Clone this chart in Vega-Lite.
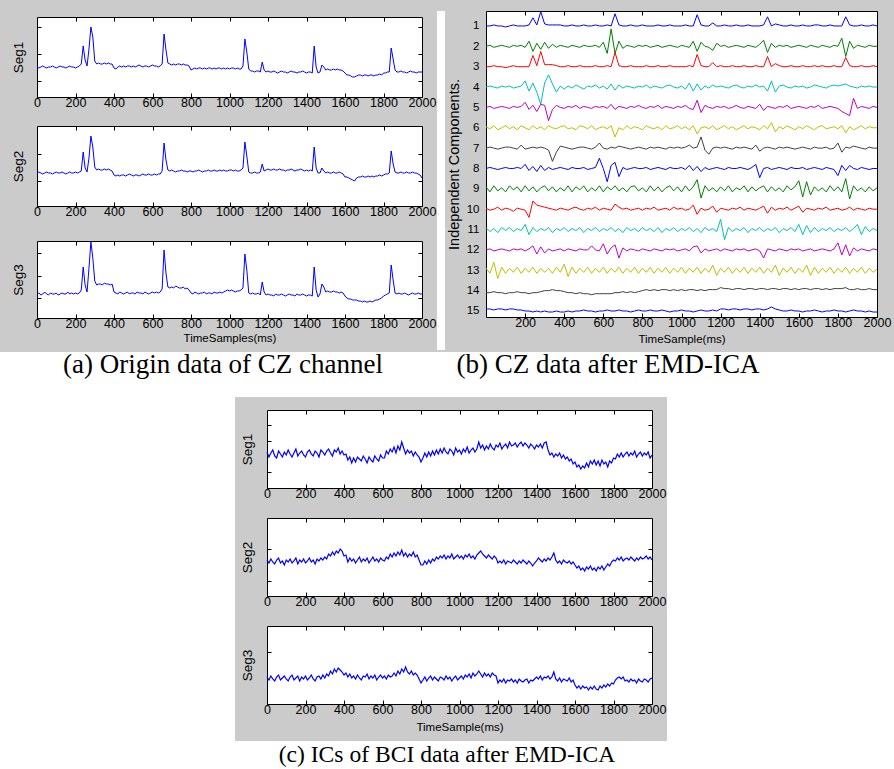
{
"$schema": "https://vega.github.io/schema/vega-lite/v6.json",
"background": "#cbcbcb",
"padding": {"left": 0, "top": 9, "right": 0, "bottom": 0},
"spacing": 0,
"config": {
 "view": {"stroke": "#000000", "strokeWidth": 1, "fill": "#ffffff"},
 "concat": {"spacing": 0},
 "axis": {"domain": false, "grid": false, "ticks": true, "tickColor": "#000000", "tickWidth": 1, "tickSize": -4, "labelFont": "Liberation Sans", "labelFontSize": 12.5, "labelColor": "#000000", "labelPadding": 3, "labelOverlap": false, "labelFlush": false, "titleFont": "Liberation Sans", "titleFontSize": 11.5, "titleFontWeight": "normal", "titleColor": "#000000", "minExtent": 0},
 "axisY": {"titleFontSize": 13.5, "titlePadding": 11}
},
"datasets": {
"ac": [
{"t":0,"a1":30,"a2":33,"a3":24,"c1":36,"c2":36,"c3":27},
{"t":10,"a1":29,"a2":34,"a3":25,"c1":31,"c2":33,"c3":24},
{"t":20,"a1":30,"a2":33,"a3":23,"c1":35,"c2":37,"c3":28},
{"t":30,"a1":31,"a2":32,"a3":24,"c1":38,"c2":34,"c3":25},
{"t":40,"a1":30,"a2":33,"a3":26,"c1":32,"c2":32,"c3":23},
{"t":50,"a1":29,"a2":34,"a3":24,"c1":30,"c2":36,"c3":27},
{"t":60,"a1":30,"a2":33,"a3":23,"c1":37,"c2":38,"c3":29},
{"t":70,"a1":30,"a2":33,"a3":25,"c1":34,"c2":33,"c3":24},
{"t":80,"a1":31,"a2":32,"a3":24,"c1":31,"c2":35,"c3":26},
{"t":90,"a1":30,"a2":33,"a3":24,"c1":36,"c2":31,"c3":28},
{"t":100,"a1":29,"a2":34,"a3":25,"c1":33,"c2":36,"c3":25},
{"t":110,"a1":30,"a2":33,"a3":23,"c1":38,"c2":34,"c3":23},
{"t":120,"a1":31,"a2":33,"a3":24,"c1":34,"c2":37,"c3":27},
{"t":130,"a1":30,"a2":34,"a3":25,"c1":31,"c2":33,"c3":29},
{"t":140,"a1":30,"a2":33,"a3":24,"c1":35,"c2":35,"c3":24},
{"t":150,"a1":29,"a2":32,"a3":24,"c1":39,"c2":38,"c3":26},
{"t":160,"a1":30,"a2":33,"a3":26,"c1":32,"c2":32,"c3":28},
{"t":170,"a1":31,"a2":34,"a3":24,"c1":35,"c2":36,"c3":23},
{"t":180,"a1":30,"a2":33,"a3":25,"c1":37,"c2":34,"c3":27},
{"t":190,"a1":30,"a2":33,"a3":24,"c1":33,"c2":37,"c3":25},
{"t":200,"a1":29,"a2":34,"a3":25,"c1":31,"c2":33,"c3":28},
{"t":210,"a1":30,"a2":33,"a3":24,"c1":36,"c2":35,"c3":24},
{"t":220,"a1":31,"a2":34,"a3":25,"c1":38,"c2":38,"c3":26},
{"t":230,"a1":33,"a2":35,"a3":28,"c1":34,"c2":34,"c3":29},
{"t":240,"a1":51,"a2":54,"a3":51,"c1":32,"c2":36,"c3":25},
{"t":250,"a1":37,"a2":38,"a3":33,"c1":37,"c2":32,"c3":23},
{"t":260,"a1":31,"a2":34,"a3":26,"c1":35,"c2":37,"c3":27},
{"t":270,"a1":48,"a2":48,"a3":50,"c1":31,"c2":35,"c3":28},
{"t":280,"a1":70,"a2":70,"a3":76,"c1":38,"c2":38,"c3":25},
{"t":290,"a1":60,"a2":59,"a3":60,"c1":36,"c2":36,"c3":29},
{"t":300,"a1":36,"a2":39,"a3":37,"c1":33,"c2":39,"c3":26},
{"t":310,"a1":33,"a2":36,"a3":33,"c1":37,"c2":37,"c3":30},
{"t":320,"a1":34,"a2":37,"a3":34,"c1":39,"c2":42,"c3":28},
{"t":330,"a1":33,"a2":36,"a3":34,"c1":35,"c2":40,"c3":33},
{"t":340,"a1":33,"a2":36,"a3":33,"c1":32,"c2":44,"c3":30},
{"t":350,"a1":34,"a2":37,"a3":35,"c1":38,"c2":41,"c3":35},
{"t":360,"a1":33,"a2":36,"a3":34,"c1":36,"c2":45,"c3":32},
{"t":370,"a1":34,"a2":37,"a3":34,"c1":40,"c2":43,"c3":36},
{"t":380,"a1":33,"a2":36,"a3":33,"c1":34,"c2":47,"c3":34},
{"t":390,"a1":33,"a2":35,"a3":34,"c1":37,"c2":45,"c3":32},
{"t":400,"a1":29,"a2":31,"a3":26,"c1":33,"c2":40,"c3":29},
{"t":410,"a1":28,"a2":30,"a3":25,"c1":34,"c2":41,"c3":31},
{"t":420,"a1":30,"a2":31,"a3":24,"c1":28,"c2":34,"c3":27},
{"t":430,"a1":31,"a2":30,"a3":26,"c1":31,"c2":38,"c3":30},
{"t":440,"a1":30,"a2":31,"a3":25,"c1":25,"c2":35,"c3":26},
{"t":450,"a1":31,"a2":31,"a3":24,"c1":30,"c2":37,"c3":28},
{"t":460,"a1":30,"a2":30,"a3":25,"c1":26,"c2":33,"c3":25},
{"t":470,"a1":31,"a2":31,"a3":26,"c1":31,"c2":36,"c3":29},
{"t":480,"a1":31,"a2":32,"a3":24,"c1":29,"c2":39,"c3":26},
{"t":490,"a1":30,"a2":31,"a3":25,"c1":27,"c2":34,"c3":24},
{"t":500,"a1":31,"a2":30,"a3":25,"c1":32,"c2":37,"c3":28},
{"t":510,"a1":30,"a2":31,"a3":24,"c1":29,"c2":35,"c3":27},
{"t":520,"a1":31,"a2":31,"a3":26,"c1":25,"c2":38,"c3":30},
{"t":530,"a1":32,"a2":30,"a3":25,"c1":31,"c2":33,"c3":25},
{"t":540,"a1":31,"a2":31,"a3":25,"c1":28,"c2":36,"c3":28},
{"t":550,"a1":30,"a2":32,"a3":24,"c1":26,"c2":39,"c3":26},
{"t":560,"a1":31,"a2":31,"a3":26,"c1":32,"c2":35,"c3":29},
{"t":570,"a1":31,"a2":31,"a3":25,"c1":29,"c2":37,"c3":24},
{"t":580,"a1":30,"a2":32,"a3":24,"c1":27,"c2":34,"c3":27},
{"t":590,"a1":31,"a2":31,"a3":25,"c1":33,"c2":38,"c3":29},
{"t":600,"a1":32,"a2":31,"a3":26,"c1":30,"c2":36,"c3":26},
{"t":610,"a1":31,"a2":32,"a3":25,"c1":30,"c2":35,"c3":28},
{"t":620,"a1":31,"a2":31,"a3":26,"c1":37,"c2":39,"c3":25},
{"t":630,"a1":30,"a2":32,"a3":25,"c1":34,"c2":37,"c3":29},
{"t":640,"a1":31,"a2":32,"a3":26,"c1":39,"c2":42,"c3":27},
{"t":650,"a1":33,"a2":35,"a3":29,"c1":36,"c2":39,"c3":28},
{"t":660,"a1":63,"a2":63,"a3":68,"c1":41,"c2":43,"c3":31},
{"t":670,"a1":47,"a2":46,"a3":45,"c1":35,"c2":40,"c3":28},
{"t":680,"a1":34,"a2":36,"a3":31,"c1":42,"c2":44,"c3":33},
{"t":690,"a1":33,"a2":35,"a3":30,"c1":38,"c2":41,"c3":30},
{"t":700,"a1":32,"a2":36,"a3":31,"c1":46,"c2":46,"c3":35},
{"t":710,"a1":33,"a2":35,"a3":30,"c1":40,"c2":40,"c3":32},
{"t":720,"a1":32,"a2":34,"a3":32,"c1":34,"c2":43,"c3":37},
{"t":730,"a1":33,"a2":35,"a3":31,"c1":38,"c2":39,"c3":32},
{"t":740,"a1":33,"a2":35,"a3":30,"c1":35,"c2":42,"c3":30},
{"t":750,"a1":32,"a2":36,"a3":30,"c1":37,"c2":40,"c3":33},
{"t":760,"a1":33,"a2":35,"a3":31,"c1":32,"c2":44,"c3":29},
{"t":770,"a1":32,"a2":35,"a3":29,"c1":36,"c2":39,"c3":31},
{"t":780,"a1":32,"a2":34,"a3":30,"c1":33,"c2":41,"c3":29},
{"t":790,"a1":31,"a2":35,"a3":28,"c1":31,"c2":36,"c3":25},
{"t":800,"a1":27,"a2":35,"a3":25,"c1":26,"c2":31,"c3":21},
{"t":810,"a1":28,"a2":34,"a3":24,"c1":30,"c2":31,"c3":24},
{"t":820,"a1":29,"a2":35,"a3":26,"c1":35,"c2":35,"c3":27},
{"t":830,"a1":28,"a2":35,"a3":25,"c1":31,"c2":32,"c3":23},
{"t":840,"a1":29,"a2":36,"a3":24,"c1":36,"c2":36,"c3":26},
{"t":850,"a1":29,"a2":35,"a3":25,"c1":32,"c2":33,"c3":28},
{"t":860,"a1":28,"a2":34,"a3":25,"c1":37,"c2":37,"c3":24},
{"t":870,"a1":29,"a2":35,"a3":26,"c1":33,"c2":35,"c3":27},
{"t":880,"a1":28,"a2":35,"a3":24,"c1":38,"c2":39,"c3":25},
{"t":890,"a1":29,"a2":36,"a3":25,"c1":34,"c2":37,"c3":23},
{"t":900,"a1":29,"a2":35,"a3":25,"c1":39,"c2":40,"c3":27},
{"t":910,"a1":28,"a2":35,"a3":24,"c1":35,"c2":38,"c3":26},
{"t":920,"a1":29,"a2":36,"a3":26,"c1":40,"c2":41,"c3":24},
{"t":930,"a1":28,"a2":35,"a3":25,"c1":36,"c2":37,"c3":28},
{"t":940,"a1":29,"a2":35,"a3":25,"c1":34,"c2":40,"c3":25},
{"t":950,"a1":29,"a2":36,"a3":26,"c1":39,"c2":38,"c3":27},
{"t":960,"a1":28,"a2":35,"a3":25,"c1":37,"c2":42,"c3":23},
{"t":970,"a1":29,"a2":36,"a3":26,"c1":33,"c2":37,"c3":26},
{"t":980,"a1":28,"a2":35,"a3":27,"c1":40,"c2":39,"c3":28},
{"t":990,"a1":29,"a2":35,"a3":28,"c1":36,"c2":41,"c3":24},
{"t":1000,"a1":28,"a2":36,"a3":27,"c1":38,"c2":38,"c3":26},
{"t":1010,"a1":29,"a2":36,"a3":28,"c1":34,"c2":40,"c3":28},
{"t":1020,"a1":29,"a2":35,"a3":27,"c1":39,"c2":37,"c3":25},
{"t":1030,"a1":28,"a2":36,"a3":26,"c1":36,"c2":41,"c3":29},
{"t":1040,"a1":29,"a2":35,"a3":27,"c1":41,"c2":39,"c3":27},
{"t":1050,"a1":28,"a2":35,"a3":27,"c1":35,"c2":42,"c3":30},
{"t":1060,"a1":28,"a2":36,"a3":28,"c1":38,"c2":38,"c3":26},
{"t":1070,"a1":31,"a2":38,"a3":30,"c1":40,"c2":40,"c3":31},
{"t":1080,"a1":58,"a2":64,"a3":64,"c1":36,"c2":37,"c3":28},
{"t":1090,"a1":45,"a2":50,"a3":48,"c1":39,"c2":41,"c3":30},
{"t":1100,"a1":28,"a2":34,"a3":25,"c1":46,"c2":43,"c3":33},
{"t":1110,"a1":26,"a2":33,"a3":24,"c1":40,"c2":45,"c3":30},
{"t":1120,"a1":26,"a2":33,"a3":25,"c1":43,"c2":42,"c3":27},
{"t":1130,"a1":25,"a2":34,"a3":24,"c1":38,"c2":40,"c3":31},
{"t":1140,"a1":26,"a2":33,"a3":24,"c1":42,"c2":38,"c3":28},
{"t":1150,"a1":26,"a2":33,"a3":25,"c1":39,"c2":41,"c3":30},
{"t":1160,"a1":25,"a2":34,"a3":23,"c1":44,"c2":39,"c3":27},
{"t":1170,"a1":35,"a2":42,"a3":36,"c1":40,"c2":37,"c3":31},
{"t":1180,"a1":27,"a2":35,"a3":26,"c1":38,"c2":40,"c3":29},
{"t":1190,"a1":25,"a2":36,"a3":23,"c1":43,"c2":38,"c3":28},
{"t":1200,"a1":26,"a2":37,"a3":24,"c1":41,"c2":33,"c3":21},
{"t":1210,"a1":25,"a2":36,"a3":23,"c1":45,"c2":35,"c3":24},
{"t":1220,"a1":25,"a2":36,"a3":23,"c1":39,"c2":33,"c3":22},
{"t":1230,"a1":26,"a2":37,"a3":22,"c1":42,"c2":36,"c3":25},
{"t":1240,"a1":25,"a2":36,"a3":24,"c1":44,"c2":32,"c3":21},
{"t":1250,"a1":24,"a2":36,"a3":23,"c1":40,"c2":35,"c3":24},
{"t":1260,"a1":25,"a2":37,"a3":23,"c1":46,"c2":34,"c3":23},
{"t":1270,"a1":26,"a2":36,"a3":24,"c1":42,"c2":33,"c3":25},
{"t":1280,"a1":25,"a2":36,"a3":23,"c1":43,"c2":36,"c3":22},
{"t":1290,"a1":25,"a2":35,"a3":22,"c1":45,"c2":34,"c3":24},
{"t":1300,"a1":24,"a2":36,"a3":23,"c1":41,"c2":32,"c3":21},
{"t":1310,"a1":25,"a2":36,"a3":24,"c1":44,"c2":35,"c3":25},
{"t":1320,"a1":26,"a2":37,"a3":23,"c1":46,"c2":33,"c3":23},
{"t":1330,"a1":25,"a2":36,"a3":23,"c1":42,"c2":36,"c3":22},
{"t":1340,"a1":25,"a2":35,"a3":22,"c1":45,"c2":34,"c3":24},
{"t":1350,"a1":24,"a2":36,"a3":24,"c1":43,"c2":32,"c3":25},
{"t":1360,"a1":25,"a2":36,"a3":23,"c1":40,"c2":35,"c3":21},
{"t":1370,"a1":25,"a2":37,"a3":23,"c1":44,"c2":33,"c3":24},
{"t":1380,"a1":26,"a2":36,"a3":24,"c1":42,"c2":30,"c3":23},
{"t":1390,"a1":25,"a2":35,"a3":23,"c1":39,"c2":33,"c3":25},
{"t":1400,"a1":24,"a2":36,"a3":22,"c1":43,"c2":35,"c3":27},
{"t":1410,"a1":25,"a2":35,"a3":23,"c1":41,"c2":38,"c3":25},
{"t":1420,"a1":25,"a2":36,"a3":23,"c1":44,"c2":36,"c3":28},
{"t":1430,"a1":24,"a2":35,"a3":22,"c1":40,"c2":34,"c3":24},
{"t":1440,"a1":51,"a2":59,"a3":51,"c1":45,"c2":37,"c3":27},
{"t":1450,"a1":30,"a2":38,"a3":28,"c1":46,"c2":35,"c3":26},
{"t":1460,"a1":24,"a2":33,"a3":21,"c1":38,"c2":38,"c3":28},
{"t":1470,"a1":25,"a2":33,"a3":24,"c1":33,"c2":36,"c3":25},
{"t":1480,"a1":32,"a2":38,"a3":34,"c1":35,"c2":39,"c3":27},
{"t":1490,"a1":30,"a2":35,"a3":31,"c1":31,"c2":43,"c3":32},
{"t":1500,"a1":27,"a2":33,"a3":26,"c1":34,"c2":36,"c3":25},
{"t":1510,"a1":28,"a2":34,"a3":27,"c1":32,"c2":33,"c3":23},
{"t":1520,"a1":27,"a2":33,"a3":26,"c1":35,"c2":35,"c3":26},
{"t":1530,"a1":27,"a2":33,"a3":26,"c1":30,"c2":32,"c3":22},
{"t":1540,"a1":28,"a2":34,"a3":27,"c1":33,"c2":36,"c3":25},
{"t":1550,"a1":27,"a2":33,"a3":26,"c1":29,"c2":34,"c3":24},
{"t":1560,"a1":28,"a2":33,"a3":26,"c1":31,"c2":33,"c3":23},
{"t":1570,"a1":27,"a2":34,"a3":25,"c1":27,"c2":35,"c3":26},
{"t":1580,"a1":27,"a2":33,"a3":26,"c1":29,"c2":32,"c3":22},
{"t":1590,"a1":26,"a2":32,"a3":25,"c1":24,"c2":34,"c3":24},
{"t":1600,"a1":24,"a2":29,"a3":22,"c1":26,"c2":31,"c3":19},
{"t":1610,"a1":22,"a2":29,"a3":20,"c1":21,"c2":28,"c3":16},
{"t":1620,"a1":22,"a2":28,"a3":19,"c1":23,"c2":30,"c3":18},
{"t":1630,"a1":21,"a2":27,"a3":19,"c1":19,"c2":26,"c3":15},
{"t":1640,"a1":20,"a2":26,"a3":18,"c1":22,"c2":28,"c3":18},
{"t":1650,"a1":20,"a2":25,"a3":18,"c1":20,"c2":25,"c3":16},
{"t":1660,"a1":21,"a2":28,"a3":18,"c1":25,"c2":29,"c3":17},
{"t":1670,"a1":22,"a2":29,"a3":17,"c1":21,"c2":27,"c3":14},
{"t":1680,"a1":22,"a2":29,"a3":17,"c1":27,"c2":30,"c3":17},
{"t":1690,"a1":21,"a2":30,"a3":16,"c1":24,"c2":26,"c3":15},
{"t":1700,"a1":22,"a2":29,"a3":17,"c1":28,"c2":28,"c3":18},
{"t":1710,"a1":22,"a2":29,"a3":16,"c1":23,"c2":25,"c3":15},
{"t":1720,"a1":21,"a2":30,"a3":16,"c1":27,"c2":29,"c3":14},
{"t":1730,"a1":22,"a2":29,"a3":17,"c1":22,"c2":27,"c3":18},
{"t":1740,"a1":22,"a2":30,"a3":16,"c1":28,"c2":30,"c3":16},
{"t":1750,"a1":21,"a2":29,"a3":17,"c1":24,"c2":26,"c3":19},
{"t":1760,"a1":22,"a2":30,"a3":18,"c1":26,"c2":29,"c3":17},
{"t":1770,"a1":22,"a2":30,"a3":18,"c1":21,"c2":32,"c3":20},
{"t":1780,"a1":23,"a2":31,"a3":19,"c1":27,"c2":30,"c3":18},
{"t":1790,"a1":22,"a2":30,"a3":20,"c1":25,"c2":34,"c3":21},
{"t":1800,"a1":24,"a2":31,"a3":22,"c1":30,"c2":36,"c3":20},
{"t":1810,"a1":24,"a2":32,"a3":23,"c1":29,"c2":35,"c3":24},
{"t":1820,"a1":25,"a2":32,"a3":24,"c1":34,"c2":38,"c3":26},
{"t":1830,"a1":25,"a2":33,"a3":25,"c1":31,"c2":36,"c3":27},
{"t":1840,"a1":49,"a2":55,"a3":53,"c1":35,"c2":39,"c3":25},
{"t":1850,"a1":38,"a2":42,"a3":38,"c1":31,"c2":35,"c3":27},
{"t":1860,"a1":27,"a2":34,"a3":25,"c1":34,"c2":37,"c3":23},
{"t":1870,"a1":25,"a2":33,"a3":24,"c1":36,"c2":38,"c3":24},
{"t":1880,"a1":25,"a2":33,"a3":25,"c1":32,"c2":36,"c3":22},
{"t":1890,"a1":26,"a2":34,"a3":24,"c1":35,"c2":39,"c3":25},
{"t":1900,"a1":25,"a2":33,"a3":24,"c1":33,"c2":37,"c3":23},
{"t":1910,"a1":25,"a2":33,"a3":25,"c1":37,"c2":35,"c3":24},
{"t":1920,"a1":24,"a2":34,"a3":24,"c1":31,"c2":38,"c3":21},
{"t":1930,"a1":25,"a2":33,"a3":23,"c1":34,"c2":36,"c3":25},
{"t":1940,"a1":26,"a2":33,"a3":24,"c1":36,"c2":39,"c3":23},
{"t":1950,"a1":25,"a2":34,"a3":25,"c1":32,"c2":37,"c3":22},
{"t":1960,"a1":25,"a2":33,"a3":24,"c1":35,"c2":38,"c3":25},
{"t":1970,"a1":24,"a2":33,"a3":24,"c1":33,"c2":40,"c3":24},
{"t":1980,"a1":25,"a2":32,"a3":25,"c1":36,"c2":37,"c3":22},
{"t":1990,"a1":25,"a2":31,"a3":24,"c1":30,"c2":39,"c3":25},
{"t":2000,"a1":25,"a2":28,"a3":24,"c1":33,"c2":36,"c3":26}
],
"b": [
{"t":0,"b1":300,"b2":280,"b3":260,"b4":240,"b5":220,"b6":201,"b7":180,"b8":160,"b9":142,"b10":121,"b11":102,"b12":80,"b13":62,"b14":38,"b15":22},
{"t":20,"b1":300,"b2":281,"b3":260,"b4":241,"b5":221,"b6":199,"b7":181,"b8":161,"b9":137,"b10":119,"b11":98,"b12":81,"b13":57,"b14":38,"b15":22},
{"t":40,"b1":301,"b2":279,"b3":261,"b4":240,"b5":219,"b6":202,"b7":180,"b8":160,"b9":143,"b10":120,"b11":101,"b12":79,"b13":68,"b14":39,"b15":21},
{"t":60,"b1":300,"b2":280,"b3":260,"b4":239,"b5":220,"b6":198,"b7":179,"b8":159,"b9":138,"b10":122,"b11":97,"b12":80,"b13":52,"b14":38,"b15":22},
{"t":80,"b1":300,"b2":281,"b3":260,"b4":241,"b5":221,"b6":200,"b7":180,"b8":160,"b9":141,"b10":119,"b11":102,"b12":81,"b13":63,"b14":38,"b15":22},
{"t":100,"b1":299,"b2":280,"b3":259,"b4":240,"b5":220,"b6":202,"b7":181,"b8":161,"b9":137,"b10":121,"b11":99,"b12":80,"b13":57,"b14":37,"b15":21},
{"t":120,"b1":300,"b2":279,"b3":260,"b4":241,"b5":219,"b6":199,"b7":181,"b8":160,"b9":143,"b10":120,"b11":102,"b12":79,"b13":62,"b14":38,"b15":22},
{"t":140,"b1":301,"b2":281,"b3":261,"b4":239,"b5":221,"b6":201,"b7":180,"b8":160,"b9":139,"b10":118,"b11":98,"b12":81,"b13":58,"b14":38,"b15":22},
{"t":160,"b1":300,"b2":280,"b3":260,"b4":240,"b5":220,"b6":198,"b7":179,"b8":161,"b9":142,"b10":121,"b11":101,"b12":80,"b13":63,"b14":39,"b15":21},
{"t":180,"b1":300,"b2":281,"b3":260,"b4":241,"b5":221,"b6":202,"b7":183,"b8":160,"b9":137,"b10":120,"b11":99,"b12":81,"b13":57,"b14":38,"b15":21},
{"t":200,"b1":300,"b2":279,"b3":260,"b4":246,"b5":225,"b6":200,"b7":179,"b8":164,"b9":143,"b10":119,"b11":105,"b12":79,"b13":62,"b14":38,"b15":20},
{"t":220,"b1":301,"b2":285,"b3":260,"b4":236,"b5":218,"b6":198,"b7":180,"b8":158,"b9":138,"b10":112,"b11":95,"b12":81,"b13":58,"b14":37,"b15":20},
{"t":240,"b1":308,"b2":275,"b3":271,"b4":244,"b5":222,"b6":202,"b7":181,"b8":162,"b9":142,"b10":128,"b11":102,"b12":84,"b13":63,"b14":38,"b15":19},
{"t":260,"b1":301,"b2":283,"b3":261,"b4":235,"b5":216,"b6":199,"b7":180,"b8":157,"b9":137,"b10":124,"b11":98,"b12":76,"b13":57,"b14":38,"b15":20},
{"t":280,"b1":314,"b2":277,"b3":275,"b4":223,"b5":223,"b6":201,"b7":181,"b8":163,"b9":141,"b10":123,"b11":101,"b12":83,"b13":62,"b14":39,"b15":19},
{"t":300,"b1":302,"b2":284,"b3":262,"b4":244,"b5":222,"b6":198,"b7":180,"b8":158,"b9":143,"b10":122,"b11":99,"b12":77,"b13":58,"b14":40,"b15":20},
{"t":320,"b1":301,"b2":278,"b3":262,"b4":252,"b5":207,"b6":202,"b7":178,"b8":161,"b9":138,"b10":121,"b11":102,"b12":81,"b13":62,"b14":40,"b15":19},
{"t":340,"b1":301,"b2":282,"b3":262,"b4":243,"b5":218,"b6":200,"b7":167,"b8":159,"b9":142,"b10":120,"b11":97,"b12":79,"b13":57,"b14":41,"b15":19},
{"t":360,"b1":301,"b2":279,"b3":261,"b4":235,"b5":222,"b6":199,"b7":176,"b8":160,"b9":137,"b10":119,"b11":101,"b12":80,"b13":63,"b14":40,"b15":20},
{"t":380,"b1":301,"b2":281,"b3":260,"b4":241,"b5":220,"b6":201,"b7":182,"b8":161,"b9":141,"b10":121,"b11":99,"b12":81,"b13":58,"b14":40,"b15":19},
{"t":400,"b1":300,"b2":280,"b3":260,"b4":238,"b5":219,"b6":202,"b7":181,"b8":160,"b9":138,"b10":120,"b11":102,"b12":79,"b13":66,"b14":39,"b15":19},
{"t":420,"b1":300,"b2":279,"b3":261,"b4":241,"b5":221,"b6":199,"b7":180,"b8":159,"b9":143,"b10":119,"b11":98,"b12":81,"b13":54,"b14":38,"b15":20},
{"t":440,"b1":301,"b2":281,"b3":260,"b4":239,"b5":220,"b6":200,"b7":179,"b8":161,"b9":137,"b10":121,"b11":101,"b12":80,"b13":63,"b14":38,"b15":19},
{"t":460,"b1":300,"b2":280,"b3":260,"b4":242,"b5":222,"b6":198,"b7":180,"b8":160,"b9":142,"b10":122,"b11":99,"b12":79,"b13":57,"b14":37,"b15":20},
{"t":480,"b1":300,"b2":279,"b3":261,"b4":240,"b5":219,"b6":202,"b7":181,"b8":160,"b9":139,"b10":120,"b11":102,"b12":81,"b13":62,"b14":38,"b15":20},
{"t":500,"b1":301,"b2":281,"b3":260,"b4":238,"b5":221,"b6":201,"b7":181,"b8":161,"b9":143,"b10":119,"b11":97,"b12":80,"b13":58,"b14":37,"b15":21},
{"t":520,"b1":300,"b2":280,"b3":260,"b4":241,"b5":220,"b6":199,"b7":180,"b8":159,"b9":137,"b10":121,"b11":101,"b12":80,"b13":63,"b14":37,"b15":20},
{"t":540,"b1":300,"b2":280,"b3":260,"b4":240,"b5":219,"b6":202,"b7":179,"b8":160,"b9":141,"b10":120,"b11":99,"b12":84,"b13":57,"b14":36,"b15":20},
{"t":560,"b1":301,"b2":281,"b3":261,"b4":242,"b5":221,"b6":198,"b7":181,"b8":161,"b9":138,"b10":122,"b11":102,"b12":80,"b13":62,"b14":37,"b15":19},
{"t":580,"b1":300,"b2":279,"b3":260,"b4":239,"b5":220,"b6":200,"b7":185,"b8":170,"b9":143,"b10":119,"b11":98,"b12":79,"b13":58,"b14":37,"b15":20},
{"t":600,"b1":300,"b2":284,"b3":260,"b4":241,"b5":221,"b6":201,"b7":180,"b8":160,"b9":137,"b10":121,"b11":101,"b12":86,"b13":63,"b14":37,"b15":20},
{"t":620,"b1":301,"b2":273,"b3":261,"b4":238,"b5":219,"b6":199,"b7":179,"b8":147,"b9":142,"b10":120,"b11":99,"b12":76,"b13":57,"b14":37,"b15":21},
{"t":640,"b1":300,"b2":297,"b3":260,"b4":243,"b5":223,"b6":202,"b7":181,"b8":163,"b9":139,"b10":119,"b11":102,"b12":82,"b13":62,"b14":37,"b15":20},
{"t":660,"b1":312,"b2":273,"b3":274,"b4":237,"b5":218,"b6":191,"b7":180,"b8":166,"b9":143,"b10":125,"b11":98,"b12":85,"b13":58,"b14":38,"b15":20},
{"t":680,"b1":301,"b2":285,"b3":261,"b4":242,"b5":221,"b6":200,"b7":182,"b8":152,"b9":138,"b10":122,"b11":101,"b12":72,"b13":63,"b14":38,"b15":21},
{"t":700,"b1":300,"b2":278,"b3":260,"b4":239,"b5":220,"b6":198,"b7":181,"b8":161,"b9":141,"b10":120,"b11":97,"b12":82,"b13":57,"b14":39,"b15":20},
{"t":720,"b1":300,"b2":281,"b3":260,"b4":241,"b5":219,"b6":202,"b7":180,"b8":159,"b9":137,"b10":121,"b11":102,"b12":79,"b13":62,"b14":38,"b15":20},
{"t":740,"b1":301,"b2":280,"b3":261,"b4":240,"b5":221,"b6":199,"b7":179,"b8":160,"b9":142,"b10":119,"b11":99,"b12":81,"b13":58,"b14":39,"b15":19},
{"t":760,"b1":300,"b2":279,"b3":260,"b4":239,"b5":220,"b6":201,"b7":180,"b8":161,"b9":143,"b10":120,"b11":101,"b12":80,"b13":63,"b14":38,"b15":20},
{"t":780,"b1":300,"b2":281,"b3":260,"b4":241,"b5":222,"b6":200,"b7":181,"b8":160,"b9":138,"b10":121,"b11":98,"b12":79,"b13":57,"b14":39,"b15":21},
{"t":800,"b1":301,"b2":280,"b3":260,"b4":240,"b5":220,"b6":198,"b7":180,"b8":160,"b9":141,"b10":119,"b11":102,"b12":81,"b13":62,"b14":40,"b15":20},
{"t":820,"b1":300,"b2":281,"b3":261,"b4":242,"b5":219,"b6":202,"b7":179,"b8":161,"b9":137,"b10":121,"b11":99,"b12":80,"b13":58,"b14":41,"b15":20},
{"t":840,"b1":300,"b2":279,"b3":260,"b4":239,"b5":221,"b6":200,"b7":181,"b8":159,"b9":143,"b10":120,"b11":101,"b12":79,"b13":63,"b14":40,"b15":21},
{"t":860,"b1":300,"b2":280,"b3":260,"b4":241,"b5":220,"b6":199,"b7":180,"b8":160,"b9":138,"b10":122,"b11":98,"b12":81,"b13":57,"b14":41,"b15":20},
{"t":880,"b1":301,"b2":281,"b3":261,"b4":240,"b5":222,"b6":201,"b7":181,"b8":161,"b9":142,"b10":119,"b11":102,"b12":80,"b13":62,"b14":40,"b15":20},
{"t":900,"b1":300,"b2":279,"b3":260,"b4":239,"b5":219,"b6":198,"b7":180,"b8":160,"b9":137,"b10":120,"b11":97,"b12":79,"b13":58,"b14":41,"b15":21},
{"t":920,"b1":300,"b2":280,"b3":260,"b4":241,"b5":221,"b6":202,"b7":179,"b8":159,"b9":141,"b10":121,"b11":101,"b12":81,"b13":63,"b14":41,"b15":20},
{"t":940,"b1":301,"b2":281,"b3":261,"b4":242,"b5":220,"b6":199,"b7":181,"b8":161,"b9":143,"b10":119,"b11":99,"b12":80,"b13":57,"b14":40,"b15":19},
{"t":960,"b1":300,"b2":280,"b3":260,"b4":240,"b5":219,"b6":200,"b7":180,"b8":160,"b9":138,"b10":122,"b11":102,"b12":81,"b13":62,"b14":41,"b15":20},
{"t":980,"b1":300,"b2":279,"b3":260,"b4":239,"b5":221,"b6":202,"b7":181,"b8":160,"b9":142,"b10":120,"b11":98,"b12":79,"b13":58,"b14":40,"b15":20},
{"t":1000,"b1":300,"b2":281,"b3":260,"b4":241,"b5":220,"b6":199,"b7":180,"b8":161,"b9":137,"b10":121,"b11":101,"b12":80,"b13":63,"b14":41,"b15":21},
{"t":1020,"b1":301,"b2":280,"b3":260,"b4":238,"b5":222,"b6":201,"b7":181,"b8":159,"b9":143,"b10":119,"b11":99,"b12":81,"b13":57,"b14":40,"b15":20},
{"t":1040,"b1":300,"b2":279,"b3":261,"b4":244,"b5":219,"b6":198,"b7":183,"b8":163,"b9":138,"b10":120,"b11":102,"b12":79,"b13":62,"b14":41,"b15":20},
{"t":1060,"b1":300,"b2":285,"b3":260,"b4":236,"b5":218,"b6":202,"b7":180,"b8":158,"b9":142,"b10":124,"b11":98,"b12":83,"b13":58,"b14":41,"b15":19},
{"t":1080,"b1":311,"b2":275,"b3":272,"b4":243,"b5":227,"b6":194,"b7":181,"b8":162,"b9":149,"b10":115,"b11":101,"b12":84,"b13":63,"b14":40,"b15":20},
{"t":1100,"b1":301,"b2":284,"b3":261,"b4":237,"b5":215,"b6":200,"b7":191,"b8":157,"b9":131,"b10":121,"b11":97,"b12":77,"b13":57,"b14":41,"b15":21},
{"t":1120,"b1":300,"b2":280,"b3":260,"b4":241,"b5":222,"b6":201,"b7":178,"b8":161,"b9":143,"b10":119,"b11":102,"b12":81,"b13":62,"b14":40,"b15":20},
{"t":1140,"b1":300,"b2":279,"b3":260,"b4":239,"b5":220,"b6":199,"b7":174,"b8":159,"b9":138,"b10":120,"b11":99,"b12":79,"b13":58,"b14":41,"b15":20},
{"t":1160,"b1":303,"b2":276,"b3":264,"b4":242,"b5":219,"b6":202,"b7":180,"b8":160,"b9":141,"b10":123,"b11":101,"b12":80,"b13":65,"b14":41,"b15":21},
{"t":1180,"b1":300,"b2":283,"b3":260,"b4":240,"b5":221,"b6":198,"b7":181,"b8":161,"b9":137,"b10":117,"b11":98,"b12":81,"b13":55,"b14":41,"b15":20},
{"t":1200,"b1":300,"b2":280,"b3":261,"b4":241,"b5":220,"b6":200,"b7":180,"b8":160,"b9":142,"b10":121,"b11":110,"b12":79,"b13":62,"b14":43,"b15":22},
{"t":1220,"b1":301,"b2":281,"b3":260,"b4":240,"b5":221,"b6":202,"b7":181,"b8":159,"b9":138,"b10":120,"b11":90,"b12":81,"b13":58,"b14":42,"b15":22},
{"t":1240,"b1":300,"b2":279,"b3":260,"b4":239,"b5":219,"b6":199,"b7":180,"b8":161,"b9":143,"b10":119,"b11":102,"b12":80,"b13":63,"b14":42,"b15":21},
{"t":1260,"b1":300,"b2":280,"b3":261,"b4":241,"b5":220,"b6":201,"b7":179,"b8":160,"b9":137,"b10":121,"b11":98,"b12":79,"b13":57,"b14":41,"b15":22},
{"t":1280,"b1":301,"b2":281,"b3":260,"b4":242,"b5":222,"b6":198,"b7":181,"b8":160,"b9":141,"b10":120,"b11":101,"b12":81,"b13":62,"b14":42,"b15":22},
{"t":1300,"b1":300,"b2":280,"b3":260,"b4":240,"b5":220,"b6":200,"b7":180,"b8":161,"b9":139,"b10":122,"b11":99,"b12":80,"b13":58,"b14":42,"b15":21},
{"t":1320,"b1":300,"b2":279,"b3":261,"b4":239,"b5":219,"b6":202,"b7":181,"b8":160,"b9":143,"b10":119,"b11":102,"b12":81,"b13":63,"b14":41,"b15":22},
{"t":1340,"b1":301,"b2":281,"b3":260,"b4":241,"b5":221,"b6":199,"b7":180,"b8":159,"b9":137,"b10":121,"b11":97,"b12":79,"b13":57,"b14":42,"b15":22},
{"t":1360,"b1":300,"b2":280,"b3":260,"b4":240,"b5":220,"b6":201,"b7":179,"b8":161,"b9":142,"b10":120,"b11":101,"b12":80,"b13":62,"b14":42,"b15":21},
{"t":1380,"b1":300,"b2":279,"b3":261,"b4":242,"b5":219,"b6":200,"b7":183,"b8":164,"b9":138,"b10":119,"b11":99,"b12":81,"b13":58,"b14":41,"b15":22},
{"t":1400,"b1":300,"b2":282,"b3":260,"b4":240,"b5":223,"b6":198,"b7":177,"b8":151,"b9":141,"b10":121,"b11":102,"b12":79,"b13":63,"b14":42,"b15":22},
{"t":1420,"b1":301,"b2":286,"b3":260,"b4":241,"b5":217,"b6":202,"b7":180,"b8":160,"b9":143,"b10":123,"b11":98,"b12":72,"b13":57,"b14":42,"b15":21},
{"t":1440,"b1":309,"b2":274,"b3":270,"b4":236,"b5":221,"b6":199,"b7":181,"b8":161,"b9":137,"b10":116,"b11":101,"b12":81,"b13":62,"b14":41,"b15":22},
{"t":1460,"b1":300,"b2":283,"b3":260,"b4":246,"b5":220,"b6":205,"b7":180,"b8":159,"b9":142,"b10":122,"b11":99,"b12":80,"b13":58,"b14":42,"b15":24},
{"t":1480,"b1":302,"b2":279,"b3":263,"b4":235,"b5":219,"b6":196,"b7":179,"b8":160,"b9":138,"b10":119,"b11":102,"b12":79,"b13":65,"b14":42,"b15":22},
{"t":1500,"b1":301,"b2":281,"b3":261,"b4":241,"b5":221,"b6":201,"b7":181,"b8":161,"b9":141,"b10":121,"b11":97,"b12":81,"b13":55,"b14":41,"b15":21},
{"t":1520,"b1":300,"b2":280,"b3":260,"b4":242,"b5":220,"b6":199,"b7":180,"b8":160,"b9":137,"b10":120,"b11":101,"b12":80,"b13":62,"b14":42,"b15":20},
{"t":1540,"b1":300,"b2":281,"b3":260,"b4":240,"b5":222,"b6":202,"b7":181,"b8":159,"b9":143,"b10":122,"b11":99,"b12":79,"b13":58,"b14":42,"b15":20},
{"t":1560,"b1":301,"b2":279,"b3":261,"b4":239,"b5":219,"b6":200,"b7":180,"b8":161,"b9":139,"b10":119,"b11":102,"b12":81,"b13":63,"b14":41,"b15":21},
{"t":1580,"b1":300,"b2":280,"b3":260,"b4":241,"b5":220,"b6":198,"b7":179,"b8":160,"b9":142,"b10":121,"b11":98,"b12":80,"b13":57,"b14":42,"b15":20},
{"t":1600,"b1":300,"b2":281,"b3":260,"b4":240,"b5":221,"b6":201,"b7":180,"b8":160,"b9":148,"b10":123,"b11":105,"b12":81,"b13":62,"b14":41,"b15":20},
{"t":1620,"b1":301,"b2":280,"b3":261,"b4":241,"b5":220,"b6":199,"b7":181,"b8":161,"b9":132,"b10":117,"b11":95,"b12":79,"b13":58,"b14":42,"b15":19},
{"t":1640,"b1":300,"b2":279,"b3":260,"b4":239,"b5":219,"b6":202,"b7":180,"b8":159,"b9":147,"b10":121,"b11":104,"b12":80,"b13":65,"b14":42,"b15":20},
{"t":1660,"b1":300,"b2":281,"b3":260,"b4":240,"b5":221,"b6":200,"b7":179,"b8":160,"b9":134,"b10":120,"b11":97,"b12":81,"b13":55,"b14":41,"b15":20},
{"t":1680,"b1":301,"b2":280,"b3":261,"b4":242,"b5":220,"b6":198,"b7":181,"b8":161,"b9":142,"b10":119,"b11":102,"b12":79,"b13":63,"b14":42,"b15":21},
{"t":1700,"b1":301,"b2":279,"b3":260,"b4":241,"b5":222,"b6":201,"b7":180,"b8":160,"b9":138,"b10":121,"b11":98,"b12":80,"b13":57,"b14":42,"b15":20},
{"t":1720,"b1":300,"b2":281,"b3":261,"b4":240,"b5":219,"b6":202,"b7":180,"b8":159,"b9":141,"b10":120,"b11":101,"b12":81,"b13":62,"b14":41,"b15":19},
{"t":1740,"b1":300,"b2":280,"b3":260,"b4":239,"b5":220,"b6":199,"b7":181,"b8":161,"b9":137,"b10":122,"b11":99,"b12":80,"b13":58,"b14":42,"b15":20},
{"t":1760,"b1":301,"b2":279,"b3":260,"b4":241,"b5":221,"b6":200,"b7":179,"b8":160,"b9":143,"b10":119,"b11":102,"b12":79,"b13":63,"b14":41,"b15":20},
{"t":1780,"b1":300,"b2":281,"b3":261,"b4":242,"b5":220,"b6":201,"b7":180,"b8":159,"b9":138,"b10":120,"b11":98,"b12":81,"b13":57,"b14":42,"b15":21},
{"t":1800,"b1":300,"b2":280,"b3":260,"b4":241,"b5":219,"b6":199,"b7":185,"b8":153,"b9":142,"b10":121,"b11":101,"b12":87,"b13":62,"b14":42,"b15":20},
{"t":1820,"b1":300,"b2":288,"b3":260,"b4":242,"b5":216,"b6":202,"b7":176,"b8":163,"b9":137,"b10":119,"b11":99,"b12":75,"b13":58,"b14":42,"b15":20},
{"t":1840,"b1":309,"b2":270,"b3":269,"b4":243,"b5":214,"b6":195,"b7":181,"b8":158,"b9":150,"b10":120,"b11":102,"b12":85,"b13":63,"b14":43,"b15":19},
{"t":1860,"b1":301,"b2":285,"b3":261,"b4":241,"b5":212,"b6":201,"b7":180,"b8":163,"b9":130,"b10":122,"b11":98,"b12":74,"b13":57,"b14":41,"b15":20},
{"t":1880,"b1":300,"b2":278,"b3":260,"b4":240,"b5":229,"b6":198,"b7":182,"b8":160,"b9":143,"b10":119,"b11":101,"b12":82,"b13":62,"b14":41,"b15":21},
{"t":1900,"b1":300,"b2":281,"b3":260,"b4":239,"b5":219,"b6":200,"b7":181,"b8":159,"b9":138,"b10":121,"b11":105,"b12":79,"b13":58,"b14":42,"b15":20},
{"t":1920,"b1":301,"b2":280,"b3":261,"b4":241,"b5":221,"b6":202,"b7":180,"b8":161,"b9":141,"b10":120,"b11":95,"b12":81,"b13":63,"b14":41,"b15":20},
{"t":1940,"b1":300,"b2":279,"b3":260,"b4":240,"b5":220,"b6":199,"b7":179,"b8":160,"b9":137,"b10":119,"b11":103,"b12":80,"b13":57,"b14":41,"b15":19},
{"t":1960,"b1":300,"b2":281,"b3":260,"b4":241,"b5":219,"b6":201,"b7":181,"b8":159,"b9":142,"b10":121,"b11":98,"b12":79,"b13":62,"b14":42,"b15":20},
{"t":1980,"b1":301,"b2":280,"b3":261,"b4":240,"b5":221,"b6":200,"b7":180,"b8":160,"b9":138,"b10":120,"b11":101,"b12":81,"b13":58,"b14":41,"b15":19},
{"t":2000,"b1":300,"b2":280,"b3":260,"b4":240,"b5":220,"b6":200,"b7":180,"b8":160,"b9":141,"b10":120,"b11":99,"b12":80,"b13":61,"b14":41,"b15":19}
]
},
"vconcat": [
 {"spacing": 0, "hconcat": [
  {"width": 11, "height": 1, "data": {"values": []}, "mark": "point", "view": {"fill": "#cbcbcb", "stroke": null}},
  {"spacing": 0, "vconcat": [
   {"width": 1, "height": 5, "data": {"values": []}, "mark": "point", "view": {"fill": "#cbcbcb", "stroke": null}},
   {"spacing": 16, "vconcat": [
    {"width": 385, "height": 80, "data": {"name": "ac"},
     "layer": [
      {"mark": {"type": "line", "color": "#0000ff", "strokeWidth": 1},
       "encoding": {
        "x": {"field": "t", "type": "quantitative", "scale": {"domain": [0, 2000], "nice": false}, "axis": {"values": [0,200,400,600,800,1000,1200,1400,1600,1800,2000], "format": "d", "title": null}},
        "y": {"field": "a1", "type": "quantitative", "scale": {"domain": [0, 80], "nice": false, "zero": false}, "axis": {"values": [16, 43, 70], "labels": false, "title": "Seg1", "titleFontSize": 13.5, "titlePadding": 11}}}},
      {"data": {"values": []}, "mark": "rule",
       "encoding": {
        "x": {"field": "t", "type": "quantitative", "scale": {"domain": [0, 2000], "nice": false}, "axis": {"orient": "top", "values": [200,400,600,800,1000,1200,1400,1600,1800], "labels": false, "title": null}},
        "y": {"field": "a1", "type": "quantitative", "scale": {"domain": [0, 80], "nice": false, "zero": false}, "axis": {"orient": "right", "values": [16, 43, 70], "labels": false, "title": null}}}}
     ],
     "resolve": {"axis": {"x": "independent", "y": "independent"}}},
    {"width": 385, "height": 80, "data": {"name": "ac"},
     "layer": [
      {"mark": {"type": "line", "color": "#0000ff", "strokeWidth": 1},
       "encoding": {
        "x": {"field": "t", "type": "quantitative", "scale": {"domain": [0, 2000], "nice": false}, "axis": {"values": [0,200,400,600,800,1000,1200,1400,1600,1800,2000], "format": "d", "title": null}},
        "y": {"field": "a2", "type": "quantitative", "scale": {"domain": [0, 80], "nice": false, "zero": false}, "axis": {"values": [25, 52], "labels": false, "title": "Seg2", "titleFontSize": 13.5, "titlePadding": 11}}}},
      {"data": {"values": []}, "mark": "rule",
       "encoding": {
        "x": {"field": "t", "type": "quantitative", "scale": {"domain": [0, 2000], "nice": false}, "axis": {"orient": "top", "values": [200,400,600,800,1000,1200,1400,1600,1800], "labels": false, "title": null}},
        "y": {"field": "a2", "type": "quantitative", "scale": {"domain": [0, 80], "nice": false, "zero": false}, "axis": {"orient": "right", "values": [25, 52], "labels": false, "title": null}}}}
     ],
     "resolve": {"axis": {"x": "independent", "y": "independent"}}}
   ]},
   {"width": 1, "height": 21, "data": {"values": []}, "mark": "point", "view": {"fill": "#cbcbcb", "stroke": null}},
   {"width": 385, "height": 77, "data": {"name": "ac"},
    "layer": [
     {"mark": {"type": "line", "color": "#0000ff", "strokeWidth": 1},
      "encoding": {
       "x": {"field": "t", "type": "quantitative", "scale": {"domain": [0, 2000], "nice": false}, "axis": {"values": [0,200,400,600,800,1000,1200,1400,1600,1800,2000], "format": "d", "title": "TimeSamples(ms)", "titlePadding": 3}},
       "y": {"field": "a3", "type": "quantitative", "scale": {"domain": [0, 77], "nice": false, "zero": false}, "axis": {"values": [20, 42, 65], "labels": false, "title": "Seg3", "titleFontSize": 13.5, "titlePadding": 11}}}},
     {"data": {"values": []}, "mark": "rule",
      "encoding": {
       "x": {"field": "t", "type": "quantitative", "scale": {"domain": [0, 2000], "nice": false}, "axis": {"orient": "top", "values": [200,400,600,800,1000,1200,1400,1600,1800], "labels": false, "title": null}},
       "y": {"field": "a3", "type": "quantitative", "scale": {"domain": [0, 77], "nice": false, "zero": false}, "axis": {"orient": "right", "values": [20, 42, 65], "labels": false, "title": null}}}}
    ],
    "resolve": {"axis": {"x": "independent", "y": "independent"}}}
  ]},
  {"width": 8, "height": 339, "data": {"values": []}, "mark": "point", "view": {"fill": "#ffffff", "stroke": null}},
  {"width": 391, "height": 306, "data": {"name": "b"},
   "layer": [
    {"transform": [{"fold": ["b1","b2","b3","b4","b5","b6","b7","b8","b9","b10","b11","b12","b13","b14","b15"], "as": ["comp", "val"]}],
     "mark": {"type": "line"},
     "encoding": {
      "x": {"field": "t", "type": "quantitative", "scale": {"domain": [0, 2000], "nice": false}, "axis": {"values": [200,400,600,800,1000,1200,1400,1600,1800,2000], "format": "d", "title": "TimeSample(ms)", "titlePadding": 5}},
      "y": {"field": "val", "type": "quantitative", "scale": {"domain": [14.1, 314.7], "nice": false, "zero": false}, "axis": {"values": [20,40,60,80,100,120,140,160,180,200,220,240,260,280,300], "labelExpr": "16 - datum.value / 20", "ticks": false, "labelFontSize": 11.5, "labelPadding": 7, "title": "Independent Components.", "titleFontSize": 14.5, "titlePadding": 5}},
      "color": {"field": "comp", "type": "nominal", "scale": {"domain": ["b1","b2","b3","b4","b5","b6","b7","b8","b9","b10","b11","b12","b13","b14","b15"], "range": ["#0000ff","#008000","#ff0000","#00bfbf","#bf00bf","#bfbf00","#404040","#0000ff","#008000","#ff0000","#00bfbf","#bf00bf","#bfbf00","#404040","#0000ff"]}, "legend": null},
      "strokeWidth": {"field": "comp", "type": "nominal", "scale": {"domain": ["b1","b2","b3","b4","b5","b6","b7","b8","b9","b10","b11","b12","b13","b14","b15"], "range": [1,1,1,1,1,1,1,1,1.8,1,1.8,1,2.2,1,1]}, "legend": null}}},
    {"data": {"values": []}, "mark": "rule",
     "encoding": {
      "x": {"field": "t", "type": "quantitative", "scale": {"domain": [0, 2000], "nice": false}, "axis": {"orient": "top", "values": [200,400,600,800,1000,1200,1400,1600,1800], "labels": false, "title": null}}}}
   ],
   "resolve": {"axis": {"x": "independent"}}}
 ]},
 {"spacing": 0, "hconcat": [
  {"width": 446, "height": 45, "data": {"values": [{"cap": "(a) Origin data of CZ channel"}]}, "mark": {"type": "text", "font": "Liberation Serif", "fontSize": 27, "color": "#000000", "dy": -10}, "encoding": {"text": {"field": "cap", "type": "nominal"}}, "view": {"fill": "#ffffff", "stroke": null}},
  {"width": 324, "height": 45, "data": {"values": [{"cap": "(b) CZ data after EMD-ICA"}]}, "mark": {"type": "text", "font": "Liberation Serif", "fontSize": 27, "color": "#000000", "dy": -10}, "encoding": {"text": {"field": "cap", "type": "nominal"}}, "view": {"fill": "#ffffff", "stroke": null}},
  {"width": 124, "height": 45, "data": {"values": []}, "mark": "point", "view": {"fill": "#ffffff", "stroke": null}}
 ]},
 {"spacing": 0, "hconcat": [
  {"width": 235, "height": 344, "data": {"values": []}, "mark": "point", "view": {"fill": "#ffffff", "stroke": null}},
  {"width": 5, "height": 1, "data": {"values": []}, "mark": "point", "view": {"fill": "#cbcbcb", "stroke": null}},
  {"spacing": 0, "vconcat": [
   {"width": 1, "height": 12, "data": {"values": []}, "mark": "point", "view": {"fill": "#cbcbcb", "stroke": null}},
   {"spacing": 17, "vconcat": [
    {"width": 385, "height": 78, "data": {"name": "ac"},
     "layer": [
      {"mark": {"type": "line", "color": "#0000ff", "strokeWidth": 1.2},
       "encoding": {
        "x": {"field": "t", "type": "quantitative", "scale": {"domain": [0, 2000], "nice": false}, "axis": {"values": [0,200,400,600,800,1000,1200,1400,1600,1800,2000], "format": "d", "title": null}},
        "y": {"field": "c1", "type": "quantitative", "scale": {"domain": [0, 78], "nice": false, "zero": false}, "axis": {"values": [16, 47, 63], "labels": false, "title": "Seg1", "titleFontSize": 13.5, "titlePadding": 12}}}},
      {"data": {"values": []}, "mark": "rule",
       "encoding": {
        "x": {"field": "t", "type": "quantitative", "scale": {"domain": [0, 2000], "nice": false}, "axis": {"orient": "top", "values": [200,400,600,800,1000,1200,1400,1600,1800], "labels": false, "title": null}},
        "y": {"field": "c1", "type": "quantitative", "scale": {"domain": [0, 78], "nice": false, "zero": false}, "axis": {"orient": "right", "values": [16, 47, 63], "labels": false, "title": null}}}}
     ],
     "resolve": {"axis": {"x": "independent", "y": "independent"}}},
    {"width": 385, "height": 78, "data": {"name": "ac"},
     "layer": [
      {"mark": {"type": "line", "color": "#0000ff", "strokeWidth": 1.2},
       "encoding": {
        "x": {"field": "t", "type": "quantitative", "scale": {"domain": [0, 2000], "nice": false}, "axis": {"values": [0,200,400,600,800,1000,1200,1400,1600,1800,2000], "format": "d", "title": null}},
        "y": {"field": "c2", "type": "quantitative", "scale": {"domain": [0, 78], "nice": false, "zero": false}, "axis": {"values": [15, 47], "labels": false, "title": "Seg2", "titleFontSize": 13.5, "titlePadding": 12}}}},
      {"data": {"values": []}, "mark": "rule",
       "encoding": {
        "x": {"field": "t", "type": "quantitative", "scale": {"domain": [0, 2000], "nice": false}, "axis": {"orient": "top", "values": [200,400,600,800,1000,1200,1400,1600,1800], "labels": false, "title": null}},
        "y": {"field": "c2", "type": "quantitative", "scale": {"domain": [0, 78], "nice": false, "zero": false}, "axis": {"orient": "right", "values": [15, 47], "labels": false, "title": null}}}}
     ],
     "resolve": {"axis": {"x": "independent", "y": "independent"}}},
    {"width": 385, "height": 78, "data": {"name": "ac"},
     "layer": [
      {"mark": {"type": "line", "color": "#0000ff", "strokeWidth": 1.2},
       "encoding": {
        "x": {"field": "t", "type": "quantitative", "scale": {"domain": [0, 2000], "nice": false}, "axis": {"values": [0,200,400,600,800,1000,1200,1400,1600,1800,2000], "format": "d", "title": "TimeSample(ms)", "titlePadding": 6}},
        "y": {"field": "c3", "type": "quantitative", "scale": {"domain": [0, 78], "nice": false, "zero": false}, "axis": {"values": [52], "labels": false, "title": "Seg3", "titleFontSize": 13.5, "titlePadding": 12}}}},
      {"data": {"values": []}, "mark": "rule",
       "encoding": {
        "x": {"field": "t", "type": "quantitative", "scale": {"domain": [0, 2000], "nice": false}, "axis": {"orient": "top", "values": [200,400,600,800,1000,1200,1400,1600,1800], "labels": false, "title": null}},
        "y": {"field": "c3", "type": "quantitative", "scale": {"domain": [0, 78], "nice": false, "zero": false}, "axis": {"orient": "right", "values": [52], "labels": false, "title": null}}}}
     ],
     "resolve": {"axis": {"x": "independent", "y": "independent"}}}
   ]}
  ]},
  {"width": 227, "height": 344, "data": {"values": []}, "mark": "point", "view": {"fill": "#ffffff", "stroke": null}}
 ]},
 {"width": 894, "height": 32, "data": {"values": [{"cap": "(c) ICs of BCI data after EMD-ICA"}]}, "mark": {"type": "text", "font": "Liberation Serif", "fontSize": 23.6, "color": "#000000", "dy": -2}, "encoding": {"text": {"field": "cap", "type": "nominal"}}, "view": {"fill": "#ffffff", "stroke": null}}
]
}
